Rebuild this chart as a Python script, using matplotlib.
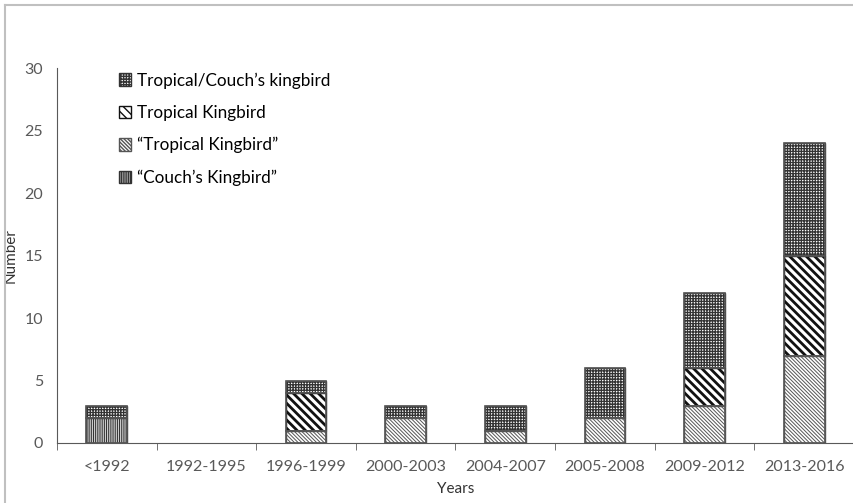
import matplotlib.pyplot as plt
import numpy as np
from matplotlib.lines import Line2D

plt.rcParams['font.family'] = ['Lato', 'DejaVu Sans']

years = ['<1992', '1992-1995', '1996-1999', '2000-2003', '2004-2007', '2005-2008', '2009-2012', '2013-2016']
couch_q = [2, 0, 0, 0, 0, 0, 0, 0]
tropical_q = [0, 0, 1, 2, 1, 2, 3, 7]
tropical = [0, 0, 3, 0, 0, 0, 3, 8]
trop_couch = [1, 0, 1, 1, 2, 4, 6, 9]

fig = plt.figure(figsize=(8.54, 5.03), dpi=100)
ax = fig.add_axes([57/854, 1-443/503, 1-57/854, (443-68)/503])

x = np.arange(len(years))
w = 0.41
b1 = np.array(couch_q)
b2 = b1 + np.array(tropical_q)
b3 = b2 + np.array(tropical)


def stack(vals, bottom, hatch, hcol, hlw):
    vals = np.array(vals)
    keep = vals > 0
    bars = ax.bar(x[keep], vals[keep], w, bottom=bottom[keep], color='white',
                  edgecolor=hcol, hatch=hatch, linewidth=1.0)
    for p in bars:
        p.set_hatch_linewidth(hlw)
    # outline drawn separately so it stays gray
    ax.bar(x[keep], vals[keep], w, bottom=bottom[keep], color='none',
           edgecolor='#555555', linewidth=1.2)
    return bars


bars4 = stack(trop_couch, b3, '++++++', '#333333', 0.95)
bars3 = stack(tropical, b2, '\\' * 4, '#111111', 2.0)
bars2 = stack(tropical_q, b1, '\\' * 9, '#555555', 0.7)
bars1 = stack(couch_q, np.zeros(len(x), dtype=int), '|' * 9, '#333333', 0.8)

ax.set_xlim(-0.5, 7.5)
ax.set_ylim(0, 30)
ax.set_yticks(range(0, 31, 5))
ax.set_xticks(x)
ax.set_xticklabels(years)
ax.set_xticks(np.arange(-0.5, 8, 1), minor=True)
ax.tick_params(axis='x', which='major', length=0, pad=12, labelsize=11.5, labelcolor='#595959')
ax.tick_params(axis='x', which='minor', length=5, color='#595959', direction='out')
ax.tick_params(axis='y', length=0, pad=10, labelsize=11.5, labelcolor='#595959')
for s in ['top', 'right']:
    ax.spines[s].set_visible(False)
ax.spines['left'].set_color('#595959')
ax.spines['bottom'].set_color('#595959')
ax.set_xlabel('Years', fontsize=11, color='#333333')
ax.set_ylabel('Number', fontsize=11, color='#333333')
ax.xaxis.set_label_coords(0.5, -0.105)
ax.yaxis.set_label_coords(-0.05, 0.5)

ax.legend([bars4, bars3, bars2, bars1],
          ['Tropical/Couch\u2019s kingbird', 'Tropical Kingbird', '\u201cTropical Kingbird\u201d', '\u201cCouch\u2019s Kingbird\u201d'],
          loc='upper left', bbox_to_anchor=(0.058, 1.03), frameon=False, fontsize=12.3,
          handlelength=0.75, handleheight=0.75, handletextpad=0.35, labelspacing=0.95)

fig.add_artist(Line2D([5/854, 5/854], [0, 1-5/503], color='#c0c0c0', lw=1.5))
fig.add_artist(Line2D([5/854, 1], [1-5/503, 1-5/503], color='#c0c0c0', lw=1.5))

plt.savefig('out.png', dpi=100)
